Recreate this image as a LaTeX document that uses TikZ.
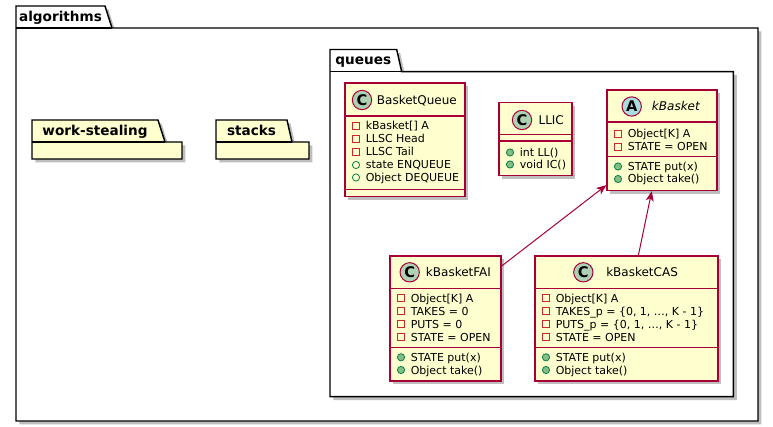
\documentclass[tikz,border=0pt]{standalone}
\usepackage{fontspec}
\setmainfont{DejaVu Sans}
\usetikzlibrary{arrows.meta,fit,shadows}
\usepackage{xcolor}
\definecolor{umlborder}{HTML}{A80036}
\definecolor{umlfill}{HTML}{FEFECE}
\definecolor{classcirc}{HTML}{ADD1B2}
\definecolor{abstcirc}{HTML}{A9DCDF}
\definecolor{privred}{HTML}{C82930}
\definecolor{pubgreen}{HTML}{038048}
\definecolor{pubfill}{HTML}{84BE84}
\tikzset{
  softshadow/.style={drop shadow={shadow xshift=2.6pt, shadow yshift=-2.6pt, fill=black, opacity=0.25}},
  pkgframe/.style={line width=1.1pt, black, fill=white, line join=miter, softshadow},
  pkgsmall/.style={pkgframe, fill=umlfill},
  pkgtab/.style={line width=1.1pt, black},
  pkglabel/.style={font=\fontsize{10.2}{12}\selectfont\bfseries, inner sep=0pt, anchor=base},
  classbox/.style={draw=umlborder, fill=umlfill, line width=0.95pt, inner sep=0pt, softshadow},
  classline/.style={umlborder, line width=0.95pt},
  classname/.style={font=\fontsize{9}{11}\selectfont, inner sep=0pt, anchor=base west},
  member/.style={font=\fontsize{8.25}{10}\selectfont, inner sep=0pt, anchor=base west},
  cicon/.style={circle, draw=umlborder, fill=classcirc, line width=0.75pt, minimum size=14.5pt, inner sep=0pt, font=\fontsize{11}{10}\selectfont\bfseries},
  aicon/.style={cicon, fill=abstcirc},
  privicon/.style={rectangle, draw=privred, line width=0.6pt, minimum size=5.2pt, inner sep=0pt},
  pubfield/.style={circle, draw=pubgreen, line width=0.6pt, minimum size=5.4pt, inner sep=0pt},
  pubmethod/.style={pubfield, fill=pubfill},
  assoc/.style={umlborder, line width=0.75pt, -{Stealth[length=7.5pt, width=6pt, inset=2pt]}},
}

\begin{document}
\begin{tikzpicture}[x=0.75pt,y=-0.75pt]
\useasboundingbox (0,0) rectangle (773,427);
% packages
\draw[pkgframe] (16,28) -- (16,6) -- (105,6) -- (112,28) -- (758,28) -- (758,421) -- (16,421) -- cycle;
\draw[pkgtab] (16,28) -- (112,28);
\node[pkglabel] (algorithms) at (60.5,21.2) {algorithms};
\draw[pkgsmall] (32,142) -- (32,120) -- (158,120) -- (165,142) -- (182,142) -- (182,159) -- (32,159) -- cycle;
\draw[pkgtab] (32,142) -- (165,142);
\node[pkglabel] (workstealing) at (95,135.8) {work-stealing};
\draw[pkgsmall] (216,142) -- (216,120) -- (287,120) -- (292,142) -- (309,142) -- (309,159) -- (216,159) -- cycle;
\draw[pkgtab] (216,142) -- (292,142);
\node[pkglabel] (stacks) at (251.5,135.8) {stacks};
\draw[pkgframe] (330,71.7) -- (330,49.5) -- (396.7,49.5) -- (401.7,71.7) -- (733.3,71.7) -- (733.3,396.7) -- (330,396.7) -- cycle;
\draw[pkgtab] (330,71.7) -- (401.7,71.7);
\node[pkglabel] (queues) at (363.3,64.3) {queues};

% BasketQueue
\node[classbox, fit={(345,83) (465,196.5)}] (bq) {};
\draw[classline] (345,116) -- (465,116);
\draw[classline] (345,189.3) -- (465,189.3);
\node[cicon] (bq-c) at (362,100) {C};
\node[classname] (bq-n) at (376.7,104.6) {BasketQueue};
\node[privicon] (bq-a1-i) at (356,126) {};
\node[member] (bq-a1) at (365.5,130) {kBasket[] A};
\node[privicon] (bq-a2-i) at (356,139) {};
\node[member] (bq-a2) at (365.5,143) {LLSC Head};
\node[privicon] (bq-a3-i) at (356,152) {};
\node[member] (bq-a3) at (365.5,156) {LLSC Tail};
\node[pubfield] (bq-a4-i) at (356,165) {};
\node[member] (bq-a4) at (365.5,169) {state ENQUEUE};
\node[pubfield] (bq-a5-i) at (356,177.5) {};
\node[member] (bq-a5) at (365.5,181.5) {Object DEQUEUE};

% LLIC
\node[classbox, fit={(499,102.7) (572,175.5)}] (llic) {};
\draw[classline] (499,134.5) -- (572,134.5);
\draw[classline] (499,141) -- (572,141);
\node[cicon] (llic-c) at (522,120) {C};
\node[classname] (llic-n) at (538.3,124.6) {LLIC};
\node[pubmethod] (llic-m1-i) at (510,152.5) {};
\node[member] (llic-m1) at (519.5,156.5) {int LL()};
\node[pubmethod] (llic-m2-i) at (510,164.5) {};
\node[member] (llic-m2) at (519.5,168.5) {void IC()};

% kBasket
\node[classbox, fit={(607,90) (717,190.5)}] (kb) {};
\draw[classline] (607,122) -- (717,122);
\draw[classline] (607,156.5) -- (717,156.5);
\node[aicon] (kb-c) at (631.7,106.5) {A};
\node[classname, font=\fontsize{9}{11}\selectfont\itshape] (kb-n) at (651.7,111) {kBasket};
\node[privicon] (kb-a1-i) at (618,134) {};
\node[member] (kb-a1) at (627.5,138) {Object[K] A};
\node[privicon] (kb-a2-i) at (618,146.5) {};
\node[member] (kb-a2) at (627.5,150.5) {STATE = OPEN};
\node[pubmethod] (kb-m1-i) at (618,166.5) {};
\node[member] (kb-m1) at (627.5,170.5) {STATE put(x)};
\node[pubmethod] (kb-m2-i) at (618,179) {};
\node[member] (kb-m2) at (627.5,183) {Object take()};

% kBasketFAI
\node[classbox, fit={(390,256) (501,381)}] (fai) {};
\draw[classline] (390,288.3) -- (501,288.3);
\draw[classline] (390,347.7) -- (501,347.7);
\node[cicon] (fai-c) at (409.7,272.3) {C};
\node[classname] (fai-n) at (425.7,276.8) {kBasketFAI};
\node[privicon] (fai-a1-i) at (401,298.3) {};
\node[member] (fai-a1) at (410.5,302.3) {Object[K] A};
\node[privicon] (fai-a2-i) at (401,311) {};
\node[member] (fai-a2) at (410.5,315) {TAKES = 0};
\node[privicon] (fai-a3-i) at (401,324) {};
\node[member] (fai-a3) at (410.5,328) {PUTS = 0};
\node[privicon] (fai-a4-i) at (401,337) {};
\node[member] (fai-a4) at (410.5,341) {STATE = OPEN};
\node[pubmethod] (fai-m1-i) at (401,357.3) {};
\node[member] (fai-m1) at (410.5,361.3) {STATE put(x)};
\node[pubmethod] (fai-m2-i) at (401,370) {};
\node[member] (fai-m2) at (410.5,374) {Object take()};

% kBasketCAS
\node[classbox, fit={(535,256) (718,381)}] (cas) {};
\draw[classline] (535,288.3) -- (718,288.3);
\draw[classline] (535,347.7) -- (718,347.7);
\node[cicon] (cas-c) at (583.3,272.3) {C};
\node[classname] (cas-n) at (606,276.8) {kBasketCAS};
\node[privicon] (cas-a1-i) at (546,298.3) {};
\node[member] (cas-a1) at (555.5,302.3) {Object[K] A};
\node[privicon] (cas-a2-i) at (546,311) {};
\node[member] (cas-a2) at (555.5,315) {TAKES\_p = \{0, 1, …, K - 1\}};
\node[privicon] (cas-a3-i) at (546,324) {};
\node[member] (cas-a3) at (555.5,328) {PUTS\_p = \{0, 1, …, K - 1\}};
\node[privicon] (cas-a4-i) at (546,337) {};
\node[member] (cas-a4) at (555.5,341) {STATE = OPEN};
\node[pubmethod] (cas-m1-i) at (546,357.3) {};
\node[member] (cas-m1) at (555.5,361.3) {STATE put(x)};
\node[pubmethod] (cas-m2-i) at (546,370) {};
\node[member] (cas-m2) at (555.5,374) {Object take()};

% inheritance arrows
\draw[assoc] ([yshift=-8pt]fai.north east) -- ([yshift=4.5pt]kb.south west);
\draw[assoc] ([xshift=8.9pt]cas.north) -- ([xshift=-7.7pt]kb.south);
\end{tikzpicture}
\end{document}
